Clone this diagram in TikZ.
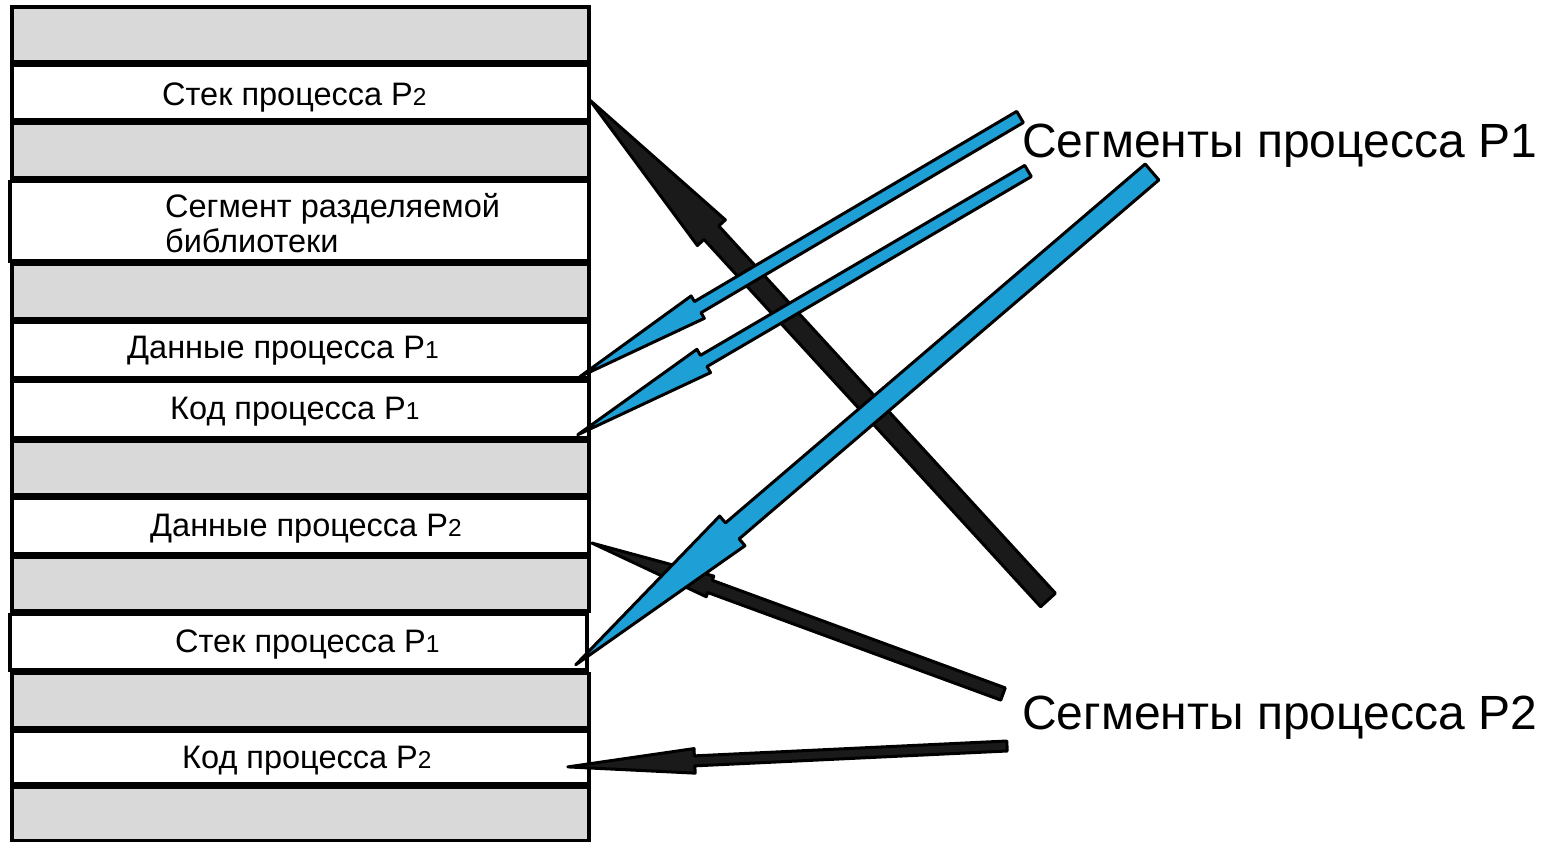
\documentclass[tikz,border=0pt]{standalone}
\usepackage{fontspec}
\setmainfont{Liberation Sans}
\usetikzlibrary{calc}
\definecolor{cellgray}{RGB}{217,217,217}
\definecolor{segblue}{RGB}{30,160,215}
\definecolor{segblack}{RGB}{26,26,26}
\newcommand\sub[1]{{\fontsize{24.5}{24.5}\selectfont #1}}
\newcommand\segarrow[6]{%
  \coordinate (#3-neck) at ($(#3)!#5!(#2)$);
  \draw[#1] ($(#2)!#4!90:(#3)$) -- ($(#3-neck)!#4!90:(#3)$) -- ($(#3-neck)!#6!90:(#3)$)
    -- (#3) -- ($(#3-neck)!#6!-90:(#3)$) -- ($(#3-neck)!#4!-90:(#3)$) -- ($(#2)!#4!-90:(#3)$) -- cycle;}
\begin{document}
\begin{tikzpicture}[x=1pt, y=-1pt,
    cell/.style={draw, line width=3.5pt, minimum width=577pt, inner sep=0pt, outer sep=0pt},
    used/.style={cell, fill=cellgray},
    free/.style={cell, fill=white},
    lbl/.style={font=\fontsize{32.5}{38}\selectfont, inner sep=0pt, anchor=base west},
    biglbl/.style={font=\fontsize{48}{56}\selectfont, inner sep=0pt, anchor=base west},
    blackarrow/.style={draw=black, fill=segblack, line width=3pt, line join=round},
    bluearrow/.style={draw=black, fill=segblue, line width=3pt, line join=round}]
  \useasboundingbox (0,0) rectangle (1552,843);

  \node[used, minimum height=54.75pt] (top) at (300.25,34.375) {};
  \node[free, minimum height=54.5pt] (stack2) at (300.25,92.5) {};
  \node[used, minimum height=54.5pt] (gap1) at (300.25,150.5) {};
  \node[free, minimum height=79.5pt, minimum width=579pt] (shlib) at (299.25,221) {};
  \node[used, minimum height=54.5pt] (gap2) at (300.25,291.5) {};
  \node[free, minimum height=55.5pt] (data1) at (300.25,350) {};
  \node[free, minimum height=56.5pt] (code1) at (300.25,409.5) {};
  \node[used, minimum height=53.5pt] (gap3) at (300.25,468) {};
  \node[free, minimum height=55.5pt] (data2) at (300.25,526) {};
  \node[used, minimum height=53.5pt] (gap4) at (300.25,584) {};
  \node[free, minimum height=55.5pt] (stack1) at (298.25,642) {};
  \node[used, minimum height=54.25pt] (gap5) at (300.25,700.4) {};
  \node[free, minimum height=52.75pt] (code2) at (300.25,757.4) {};
  \node[used, minimum height=53pt] (bottom) at (300.25,813.75) {};

  \node[lbl] (l-stack2) at (162,105) {Стек процесса P\sub2};
  \node[lbl] (l-shlib1) at (165,217) {Сегмент разделяемой};
  \node[lbl] (l-shlib2) at (165,252) {библиотеки};
  \node[lbl] (l-data1) at (127,358) {Данные процесса P\sub1};
  \node[lbl] (l-code1) at (170,419) {Код процесса P\sub1};
  \node[lbl] (l-data2) at (150,536) {Данные процесса P\sub2};
  \node[lbl] (l-stack1) at (175,652) {Стек процесса P\sub1};
  \node[lbl] (l-code2) at (182,768) {Код процесса P\sub2};

  \node[biglbl] (seg1) at (1022,157) {Сегменты процесса P1};
  \node[biglbl] (seg2) at (1022,729) {Сегменты процесса P2};

  \coordinate (tipA) at ($(stack2.east)+(1,7.5)$);
  \coordinate (tipB) at ($(data1.south east)+(-9,-1)$);
  \coordinate (tipC) at ($(code1.south east)+(-11,-3)$);
  \coordinate (tipD) at ($(stack1.south east)+(-11,-5)$);
  \coordinate (tipE) at ($(data2.east)+(3,17)$);
  \coordinate (tipF) at ($(code2.east)+(-21,9.5)$);
  \coordinate (tailA) at (1048,600);
  \coordinate (tailB) at (1020,117);
  \coordinate (tailC) at (1028,171);
  \coordinate (tailD) at (1152,172);
  \coordinate (tailE) at (1003,694);
  \coordinate (tailF) at (1007,746);

  \segarrow{blackarrow}{tailA}{tipA}{10pt}{180pt}{19pt}
  \segarrow{blackarrow}{tailE}{tipE}{6.5pt}{126pt}{11pt}
  \segarrow{blackarrow}{tailF}{tipF}{5pt}{127pt}{12.3pt}
  \segarrow{bluearrow}{tailB}{tipB}{6.5pt}{137pt}{13pt}
  \segarrow{bluearrow}{tailC}{tipC}{6.5pt}{146pt}{13.5pt}
  \segarrow{bluearrow}{tailD}{tipD}{10.5pt}{206pt}{19.5pt}
\end{tikzpicture}
\end{document}
